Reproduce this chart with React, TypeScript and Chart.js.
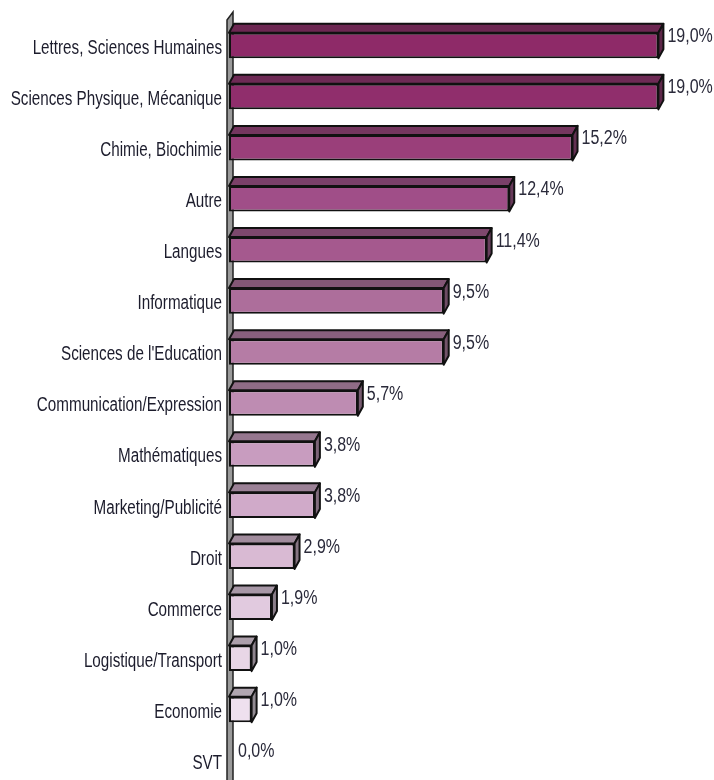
import React, { useEffect, useRef } from "react";
import { Chart, registerables } from "chart.js";

Chart.register(...registerables);

const categories = [
  "Lettres, Sciences Humaines",
  "Sciences Physique, Mécanique",
  "Chimie, Biochimie",
  "Autre",
  "Langues",
  "Informatique",
  "Sciences de l'Education",
  "Communication/Expression",
  "Mathématiques",
  "Marketing/Publicité",
  "Droit",
  "Commerce",
  "Logistique/Transport",
  "Economie",
  "SVT",
];

const values = [19.0, 19.0, 15.2, 12.4, 11.4, 9.5, 9.5, 5.7, 3.8, 3.8, 2.9, 1.9, 1.0, 1.0, 0.0];

const barColors = [
  "#8E2A68",
  "#902E6C",
  "#9A3F7A",
  "#A04E88",
  "#A5598E",
  "#AD6E9B",
  "#B57CA5",
  "#BE8CB2",
  "#C89CBF",
  "#D0AAC9",
  "#D9BAD3",
  "#E1CADF",
  "#E8D6E6",
  "#EEE0EE",
  "#F4EAF3",
];

const FONT = '"Liberation Sans", Arial, sans-serif';

function mix(hex: string, t: number, target = 32) {
  const n = parseInt(hex.slice(1), 16);
  const r = (n >> 16) & 255, g = (n >> 8) & 255, b = n & 255;
  const f = (c: number) => Math.round(c * (1 - t) + target * t);
  return `rgb(${f(r)},${f(g)},${f(b)})`;
}

const DX = 5;
const DY = 9;

function narrowText(ctx: any, text: string, x: number, y: number, size: number, sx: number, align: string, color: string) {
  ctx.save();
  ctx.translate(x, y);
  ctx.scale(sx, 1);
  ctx.font = `${size}px ${FONT}`;
  ctx.fillStyle = color;
  ctx.textAlign = align;
  ctx.textBaseline = "middle";
  ctx.fillText(text, 0, 0);
  ctx.restore();
}

const threeD = {
  id: "threeD",
  beforeDatasetsDraw(chart: any) {
    const ctx = chart.ctx;
    const a = chart.chartArea;
    const L = a.left;
    ctx.save();
    ctx.beginPath();
    ctx.moveTo(L - 2, 20);
    ctx.lineTo(L + 4, 12);
    ctx.lineTo(L + 4, chart.height);
    ctx.lineTo(L - 2, chart.height);
    ctx.closePath();
    ctx.fillStyle = "#9a9a9a";
    ctx.fill();
    ctx.lineWidth = 1.5;
    ctx.strokeStyle = "#222";
    ctx.stroke();
    ctx.restore();
  },
  afterDatasetsDraw(chart: any) {
    const ctx = chart.ctx;
    const meta = chart.getDatasetMeta(0);
    ctx.save();
    meta.data.forEach((bar: any, i: number) => {
      const { x, y, base, height } = bar.getProps(["x", "y", "base", "height"], true);
      const top = y - height / 2;
      const bottom = y + height / 2;
      const v = values[i];
      if (v > 0) {
        ctx.lineWidth = 2;
        ctx.strokeStyle = "#111";
        ctx.lineJoin = "round";
        ctx.beginPath();
        ctx.moveTo(base, top);
        ctx.lineTo(x, top);
        ctx.lineTo(x + DX, top - DY);
        ctx.lineTo(base + DX, top - DY);
        ctx.closePath();
        ctx.fillStyle = mix(barColors[i], 0.3);
        ctx.fill();
        ctx.stroke();
        ctx.beginPath();
        ctx.moveTo(x, top);
        ctx.lineTo(x + DX, top - DY);
        ctx.lineTo(x + DX, bottom - DY);
        ctx.lineTo(x, bottom);
        ctx.closePath();
        ctx.fillStyle = mix(barColors[i], 0.45);
        ctx.fill();
        ctx.stroke();
      }
      const label = v.toFixed(1).replace(".", ",") + "%";
      narrowText(ctx, label, x + DX + 4, top + 4, 20, 0.8, "left", "#2a2a3a");
      narrowText(ctx, categories[i], chart.chartArea.left - 7, y + 3, 19.5, 0.78, "right", "#1c1c2c");
    });
    ctx.restore();
  },
};

export default function App() {
  const ref = useRef<HTMLCanvasElement | null>(null);
  useEffect(() => {
    if (!ref.current) return;
    const chart = new Chart(ref.current, {
      type: "bar",
      data: {
        labels: categories,
        datasets: [
          {
            data: values,
            backgroundColor: barColors,
            borderColor: "#111",
            borderWidth: values.map((v) => (v > 0 ? 2 : 0)),
            borderSkipped: false,
            categoryPercentage: 1,
            barPercentage: 0.5,
          },
        ],
      },
      options: {
        indexAxis: "y",
        animation: false,
        responsive: false,
        maintainAspectRatio: false,
        layout: { padding: { top: 20, bottom: 14, right: 33, left: 229 } },
        plugins: { legend: { display: false }, tooltip: { enabled: false } },
        scales: {
          x: { min: 0, max: 20, display: false, grid: { display: false } },
          y: { display: false, grid: { display: false } },
        },
      },
      plugins: [threeD],
    });
    return () => chart.destroy();
  }, []);
  return (
    <div style={{ position: "fixed", left: 0, top: 0, width: 714, height: 780, overflow: "hidden", background: "#fff" }}>
      <canvas ref={ref} width={714} height={800} style={{ display: "block", width: 714, height: 800 }} />
    </div>
  );
}
